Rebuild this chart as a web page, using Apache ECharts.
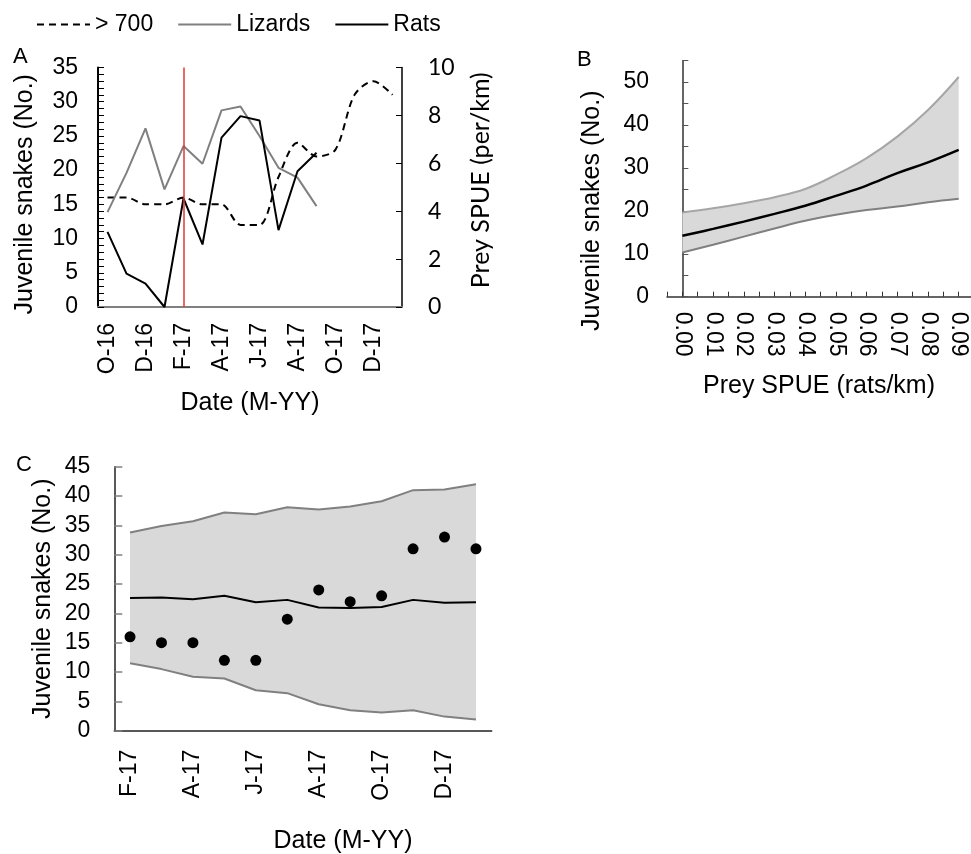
<!DOCTYPE html>
<html>
<head>
<meta charset="utf-8">
<script src="https://cdn.jsdelivr.net/npm/echarts@6/dist/echarts.min.js"></script>
<style>
  html, body { margin: 0; padding: 0; background: #fff; }
  #main { width: 971px; height: 854px; }
</style>
</head>
<body>
<div id="main"></div>
<script>
// Panel A: monthly counts (left axis) and prey SPUE (right axis)
var monthsA = ['Oct-16', 'Nov-16', 'Dec-16', 'Jan-17', 'Feb-17', 'Mar-17', 'Apr-17', 'May-17',
  'Jun-17', 'Jul-17', 'Aug-17', 'Sep-17', 'Oct-17', 'Nov-17', 'Dec-17', 'Jan-18'];
var snakesA = [16, 16, 15, 15, 16, 15, 15, 12, 12, 19, 24, 22, 23, 31, 33, 31];
var lizards = [3.96, 5.6, 7.46, 4.91, 6.72, 5.98, 8.21, 8.37, 7.14, 5.81, 5.4, 4.21];
var rats = [3.14, 1.39, 0.98, 0, 4.53, 2.61, 7.07, 7.97, 7.79, 3.21, 5.67, 6.44];
var startMonth = 'Feb-17';

// Panel B: predicted snakes vs rat SPUE
var spue = [0, 0.01, 0.02, 0.03, 0.04, 0.05, 0.06, 0.07, 0.08, 0.09];
var bMean = [14.2, 15.8, 17.5, 19.3, 21.2, 23.5, 25.9, 28.8, 31.3, 34.2];
var bUpper = [19.6, 20.6, 21.8, 23.2, 25.1, 28.4, 32.3, 37.3, 43.5, 51.2];
var bLower = [10.3, 12.1, 14.0, 15.9, 17.7, 19.1, 20.2, 21.0, 22.0, 22.8];

// Panel C: observed vs predicted
var monthsC = ['Feb-17', 'Mar-17', 'Apr-17', 'May-17', 'Jun-17', 'Jul-17', 'Aug-17', 'Sep-17',
  'Oct-17', 'Nov-17', 'Dec-17', 'Jan-18'];
var observed = [16, 15, 15, 12, 12, 19, 24, 22, 23, 31, 33, 31];
var cMean = [22.6, 22.7, 22.4, 23.0, 21.9, 22.3, 21.0, 20.9, 21.1, 22.3, 21.8, 21.9];
var cUpper = [33.8, 34.9, 35.7, 37.2, 36.9, 38.1, 37.7, 38.2, 39.1, 41.0, 41.1, 42.0];
var cLower = [11.5, 10.5, 9.2, 8.9, 6.9, 6.4, 4.5, 3.5, 3.1, 3.5, 2.4, 1.9];

function monthLabel(m) {
  return m.charAt(0) + '-' + m.slice(4);
}

var FONT = 'Liberation Sans, Arial, sans-serif';
var GREY = '#808080';
var BAND = '#d9d9d9';

var chart = echarts.init(document.getElementById('main'));

var bUpperPts = spue.map(function (x, i) { return [x, bUpper[i]]; });
var bLowerPts = spue.map(function (x, i) { return [x, bLower[i]]; });
var bMeanPts = spue.map(function (x, i) { return [x, bMean[i]]; });
// y first so the stack is done on the y values (x given through encode)
var bLowerStack = spue.map(function (x, i) { return [bLower[i], x]; });
var bBandStack = spue.map(function (x, i) { return [+(bUpper[i] - bLower[i]).toFixed(2), x]; });
var cBand = cUpper.map(function (v, i) { return +(v - cLower[i]).toFixed(2); });

var titleStyle = { fontFamily: FONT, fontSize: 22, fontWeight: 'normal', color: '#000' };

var option = {
  animation: false,
  textStyle: { fontFamily: FONT, color: '#000' },
  title: [
    { text: 'A', left: 8, top: 41, textStyle: titleStyle },
    { text: 'B', left: 572, top: 44, textStyle: titleStyle },
    { text: 'C', left: 11, top: 449, textStyle: titleStyle }
  ],
  legend: {
    data: ['> 700', 'Lizards', 'Rats'],
    left: 31,
    top: 8,
    itemWidth: 53,
    itemHeight: 14,
    itemGap: 24,
    itemStyle: { opacity: 0 },
    textStyle: { fontFamily: FONT, fontSize: 23, color: '#000' }
  },
  grid: [
    { left: 98, top: 67.5, width: 304, height: 239.5, outerBoundsMode: 'none' },
    { left: 667, top: 60.7, width: 304, height: 236, outerBoundsMode: 'none' },
    { left: 114.3, top: 466.7, width: 377.4, height: 264, outerBoundsMode: 'none' }
  ],
  xAxis: [
    {
      gridIndex: 0,
      type: 'category',
      data: monthsA,
      boundaryGap: true,
      name: 'Date (M-YY)',
      nameLocation: 'middle',
      nameGap: 84,
      nameTextStyle: { fontFamily: FONT, fontSize: 25, color: '#000', verticalAlign: 'top' },
      axisLine: { lineStyle: { color: GREY, width: 2 } },
      axisTick: { inside: true, length: 6, interval: 1, lineStyle: { color: '#222', width: 1 } },
      axisLabel: { interval: 1, rotate: 90, margin: 16, fontSize: 23, color: '#000', fontFamily: FONT, formatter: monthLabel },
      splitLine: { show: false }
    },
    {
      gridIndex: 1,
      type: 'value',
      min: -0.005,
      max: 0.094,
      interval: 0.005,
      name: 'Prey SPUE (rats/km)',
      nameLocation: 'middle',
      nameGap: 77,
      nameTextStyle: { fontFamily: FONT, fontSize: 25, color: '#000', verticalAlign: 'top' },
      axisLine: { lineStyle: { color: '#333', width: 1.5 } },
      axisTick: { inside: true, length: 5, lineStyle: { color: '#333' } },
      axisLabel: {
        rotate: -90, margin: 15, fontSize: 23, color: '#000', fontFamily: FONT,
        showMinLabel: true, showMaxLabel: true,
        formatter: function (v) {
          var k = Math.round(v * 1000);
          if (k < 0 || k > 90 || k % 10 !== 0) return '';
          return (k / 1000).toFixed(2);
        }
      },
      splitLine: { show: false }
    },
    {
      gridIndex: 2,
      type: 'category',
      data: monthsC,
      boundaryGap: true,
      name: 'Date (M-YY)',
      nameLocation: 'middle',
      nameGap: 98,
      nameTextStyle: { fontFamily: FONT, fontSize: 25, color: '#000', verticalAlign: 'top', padding: [0, 0, 0, 80] },
      axisLine: { lineStyle: { color: '#222', width: 1.5 } },
      axisTick: { inside: true, length: 6, interval: 0, lineStyle: { color: '#222' } },
      axisLabel: { interval: 1, rotate: 90, margin: 19, fontSize: 23, color: '#000', fontFamily: FONT, formatter: monthLabel },
      splitLine: { show: false }
    }
  ],
  yAxis: [
    {
      gridIndex: 0,
      type: 'value',
      min: 0,
      max: 35,
      interval: 5,
      name: 'Juvenile snakes (No.)',
      nameLocation: 'middle',
      nameGap: 60,
      nameRotate: 90,
      nameTextStyle: { fontFamily: FONT, fontSize: 25, color: '#000', padding: [0, 14, 0, 0] },
      axisLine: { show: true, lineStyle: { color: '#000', width: 2 } },
      axisTick: { show: true, inside: true, length: 6, lineStyle: { color: '#000' } },
      minorTick: { show: true, splitNumber: 5, length: 6, lineStyle: { color: '#000' } },
      axisLabel: { margin: 20, fontSize: 23, color: '#000', fontFamily: FONT },
      splitLine: { show: false }
    },
    {
      gridIndex: 0,
      type: 'value',
      position: 'right',
      min: 0,
      max: 10,
      interval: 2,
      name: 'Prey SPUE (per/km)',
      nameLocation: 'middle',
      nameGap: 66,
      nameRotate: 90,
      nameTextStyle: { fontFamily: 'Lato, sans-serif', fontSize: 25, color: '#000', verticalAlign: 'top', padding: [0, 0, 0, 14] },
      axisLine: { show: true, lineStyle: { color: '#000', width: 1.5 } },
      axisTick: { show: true, inside: true, length: 6, lineStyle: { color: '#000' } },
      axisLabel: { margin: 26, fontSize: 23, color: '#000', fontFamily: 'Lato, sans-serif' },
      splitLine: { show: false }
    },
    {
      gridIndex: 1,
      type: 'value',
      min: 0,
      max: 55,
      interval: 5,
      name: 'Juvenile snakes (No.)',
      nameLocation: 'middle',
      nameGap: 62,
      nameRotate: 90,
      nameTextStyle: { fontFamily: FONT, fontSize: 25, color: '#000', padding: [0, 64, 0, 0] },
      axisLine: { show: true, lineStyle: { color: '#333', width: 1.5 } },
      axisTick: { show: true, inside: true, length: 6, lineStyle: { color: '#555' } },
      axisLabel: {
        margin: 18, fontSize: 23, color: '#000', fontFamily: FONT,
        formatter: function (v) { return v % 10 === 0 ? v : ''; }
      },
      splitLine: { show: false }
    },
    {
      gridIndex: 2,
      type: 'value',
      min: 0,
      max: 45,
      interval: 5,
      name: 'Juvenile snakes (No.)',
      nameLocation: 'middle',
      nameGap: 59,
      nameRotate: 90,
      nameTextStyle: { fontFamily: FONT, fontSize: 25, color: '#000' },
      axisLine: { show: true, lineStyle: { color: '#222', width: 1.5 } },
      axisTick: { show: true, inside: true, length: 8, lineStyle: { color: GREY, width: 1.5 } },
      axisLabel: { margin: 24, fontSize: 23, color: '#000', fontFamily: FONT },
      splitLine: { show: false }
    }
  ],
  series: [
    // Panel A
    {
      name: '> 700',
      type: 'line',
      xAxisIndex: 0,
      yAxisIndex: 0,
      data: snakesA,
      symbol: 'none',
      smooth: 0.3,
      lineStyle: { color: '#000', width: 2, type: [7, 5] },
      itemStyle: { color: '#000' },
      markLine: {
        silent: true,
        symbol: 'none',
        label: { show: false },
        lineStyle: { color: '#e3342f', width: 1.5, type: 'solid' },
        data: [{ xAxis: startMonth }]
      }
    },
    {
      name: 'Lizards',
      type: 'line',
      xAxisIndex: 0,
      yAxisIndex: 1,
      data: lizards,
      symbol: 'none',
      lineStyle: { color: GREY, width: 2 },
      itemStyle: { color: GREY }
    },
    {
      name: 'Rats',
      type: 'line',
      xAxisIndex: 0,
      yAxisIndex: 1,
      data: rats,
      symbol: 'none',
      lineStyle: { color: '#000', width: 2 },
      itemStyle: { color: '#000' }
    },
    // Panel B
    {
      type: 'line', xAxisIndex: 1, yAxisIndex: 2, stack: 'bci', data: bLowerStack,
      encode: { x: 1, y: 0 },
      symbol: 'none', smooth: 0.4, z: 1, lineStyle: { opacity: 0 }
    },
    {
      type: 'line', xAxisIndex: 1, yAxisIndex: 2, stack: 'bci', data: bBandStack,
      encode: { x: 1, y: 0 },
      symbol: 'none', smooth: 0.4, z: 1, lineStyle: { opacity: 0 },
      areaStyle: { color: BAND, opacity: 1 }
    },
    {
      type: 'line', xAxisIndex: 1, yAxisIndex: 2, data: bUpperPts,
      symbol: 'none', smooth: 0.4, lineStyle: { color: '#a6a6a6', width: 2 }
    },
    {
      type: 'line', xAxisIndex: 1, yAxisIndex: 2, data: bLowerPts,
      symbol: 'none', smooth: 0.4, lineStyle: { color: GREY, width: 2 }
    },
    {
      type: 'line', xAxisIndex: 1, yAxisIndex: 2, data: bMeanPts,
      symbol: 'none', smooth: 0.4, lineStyle: { color: '#000', width: 2.5 }
    },
    // Panel C
    {
      type: 'line', xAxisIndex: 2, yAxisIndex: 3, stack: 'cci', data: cLower,
      symbol: 'none', z: 1, lineStyle: { opacity: 0 }
    },
    {
      type: 'line', xAxisIndex: 2, yAxisIndex: 3, stack: 'cci', data: cBand,
      symbol: 'none', z: 1, lineStyle: { opacity: 0 },
      areaStyle: { color: BAND, opacity: 1 }
    },
    {
      type: 'line', xAxisIndex: 2, yAxisIndex: 3, data: cUpper,
      symbol: 'none', lineStyle: { color: GREY, width: 2 }
    },
    {
      type: 'line', xAxisIndex: 2, yAxisIndex: 3, data: cLower,
      symbol: 'none', lineStyle: { color: GREY, width: 2 }
    },
    {
      type: 'line', xAxisIndex: 2, yAxisIndex: 3, data: cMean,
      symbol: 'none', lineStyle: { color: '#000', width: 2 }
    },
    {
      type: 'scatter', xAxisIndex: 2, yAxisIndex: 3, data: observed,
      symbol: 'circle', symbolSize: 11, z: 5, itemStyle: { color: '#000', opacity: 1 }
    }
  ]
};

chart.setOption(option);
</script>
</body>
</html>
